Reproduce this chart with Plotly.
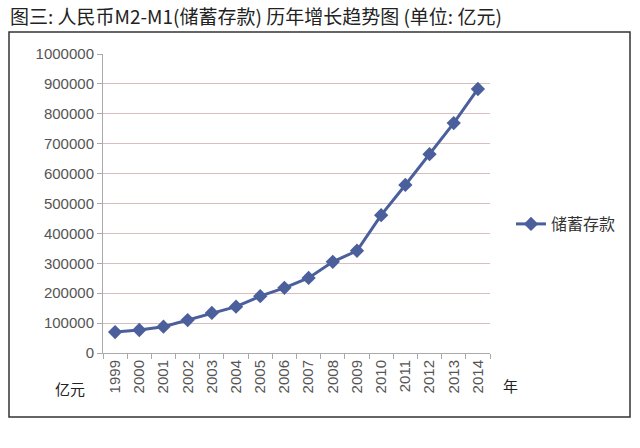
import plotly.graph_objects as go

years = ["1999", "2000", "2001", "2002", "2003", "2004", "2005", "2006",
         "2007", "2008", "2009", "2010", "2011", "2012", "2013", "2014"]
savings = [70000, 77000, 88000, 110000, 134000, 155000, 190000, 218000,
           251000, 305000, 342000, 461000, 562000, 665000, 769000, 883000]
y_ticks = [0, 100000, 200000, 300000, 400000, 500000, 600000, 700000,
           800000, 900000, 1000000]
series_name = "储蓄存款"
title_text = "图三: 人民币M2-M1(储蓄存款) 历年增长趋势图 (单位: 亿元)"

L, R, T, B = 103, 150, 54, 95
W, H = 640, 448
pw, ph = W - L - R, H - T - B

def px(x):
    return (x - L) / pw

def py(y):
    return (H - B - y) / ph

fig = go.Figure()
fig.add_trace(go.Scatter(
    x=years, y=savings, mode="lines+markers", name=series_name,
    line=dict(color="#4A5F9C", width=3),
    marker=dict(symbol="diamond", size=11, color="#4A5F9C"),
))

fig.update_layout(
    width=W, height=H,
    margin=dict(l=L, r=R, t=T, b=B),
    paper_bgcolor="white", plot_bgcolor="white",
    font=dict(family="Liberation Sans, Noto Sans CJK SC", color="#595959", size=15),
    showlegend=True,
    legend=dict(x=px(511), y=py(224), xanchor="left", yanchor="middle",
                font=dict(size=16, color="#333333",
                          family="Noto Sans CJK SC"),
                bgcolor="rgba(0,0,0,0)", itemwidth=30),
    xaxis=dict(
        type="category", range=[-0.5, 15.5], tickangle=-90,
        showline=True, linecolor="#aaaaaa", linewidth=1,
        ticks="outside", ticklen=5, tickcolor="#aaaaaa", tickson="boundaries",
        showgrid=False, tickfont=dict(size=15, color="#555555"),
    ),
    yaxis=dict(
        range=[0, 1000000], tickvals=y_ticks, ticktext=[str(v) for v in y_ticks],
        showline=True, linecolor="#aaaaaa", linewidth=1,
        ticks="outside", ticklen=5, tickcolor="#aaaaaa",
        showgrid=True, gridcolor="#D9BEBE", gridwidth=1,
        zeroline=False, tickfont=dict(size=15, color="#555555"),
    ),
    annotations=[
        dict(text=title_text, x=px(8), y=py(15), xref="paper", yref="paper",
             xanchor="left", yanchor="middle", showarrow=False,
             font=dict(size=19, color="#222222", family="Noto Sans CJK SC")),
        dict(text="亿元", x=px(70), y=py(388), xref="paper", yref="paper",
             xanchor="center", yanchor="middle", showarrow=False,
             font=dict(size=15, color="#222222", family="Noto Sans CJK SC")),
        dict(text="年", x=px(510), y=py(385), xref="paper", yref="paper",
             xanchor="center", yanchor="middle", showarrow=False,
             font=dict(size=15, color="#222222", family="Noto Sans CJK SC")),
    ],
    shapes=[
        dict(type="rect", xref="paper", yref="paper",
             x0=px(9), x1=px(630), y0=py(417), y1=py(32),
             line=dict(color="#333333", width=1.5)),
    ],
)

fig.write_html("out.html", config={"displayModeBar": False},
               post_script="document.body.style.margin='0';document.body.style.padding='0';")
